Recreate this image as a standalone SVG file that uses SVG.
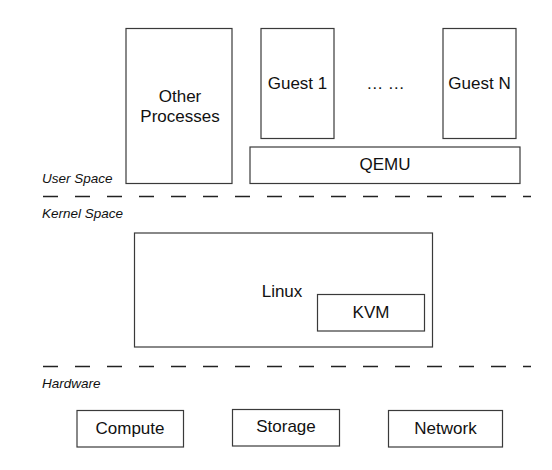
<svg xmlns="http://www.w3.org/2000/svg" width="552" height="470" viewBox="0 0 552 470">
<style>
.box{fill:#fff;stroke:#3a3a3a;stroke-width:1.2}
.t{font-family:"Liberation Sans",Arial,sans-serif;font-size:17px;fill:#111;text-anchor:middle}
.lab{font-family:"Liberation Sans",Arial,sans-serif;font-size:13.5px;font-style:italic;fill:#111}
.dash{stroke:#222;stroke-width:1.3;stroke-dasharray:15 17;fill:none}
</style>
<rect width="552" height="470" fill="#fff"/>
<g id="layers">
<line class="dash" x1="43" y1="196.5" x2="531" y2="196.5"/>
<line class="dash" x1="43" y1="366.5" x2="531" y2="366.5"/>
<text class="lab" x="42" y="183">User Space</text>
<text class="lab" x="42" y="218">Kernel Space</text>
<text class="lab" x="42" y="388">Hardware</text>
</g>
<g id="other-processes">
<rect class="box" x="126" y="28.5" width="106" height="155"/>
<text class="t" x="180" y="102">Other</text>
<text class="t" x="180" y="122">Processes</text>
</g>
<g id="guest1">
<rect class="box" x="261" y="28.5" width="73" height="110"/>
<text class="t" x="297.5" y="89">Guest 1</text>
</g>
<g id="dots">
<text class="t" x="385.5" y="89">… …</text>
</g>
<g id="guestN">
<rect class="box" x="443" y="28.5" width="73" height="110"/>
<text class="t" x="479.5" y="89">Guest N</text>
</g>
<g id="qemu">
<rect class="box" x="250" y="147" width="270" height="36.5"/>
<text class="t" x="385" y="170">QEMU</text>
</g>
<g id="linux">
<rect class="box" x="134.5" y="233" width="298" height="114"/>
<text class="t" x="282" y="297">Linux</text>
</g>
<g id="kvm">
<rect class="box" x="317.5" y="294.5" width="107" height="36.5"/>
<text class="t" x="371" y="318">KVM</text>
</g>
<g id="compute">
<rect class="box" x="77" y="410.5" width="106.5" height="36.5"/>
<text class="t" x="130" y="434">Compute</text>
</g>
<g id="storage">
<rect class="box" x="232.5" y="409.5" width="107" height="36.5"/>
<text class="t" x="286" y="432">Storage</text>
</g>
<g id="network">
<rect class="box" x="388.5" y="410.5" width="114" height="36.5"/>
<text class="t" x="445.5" y="434">Network</text>
</g>
<g id="connectors"></g>
</svg>
